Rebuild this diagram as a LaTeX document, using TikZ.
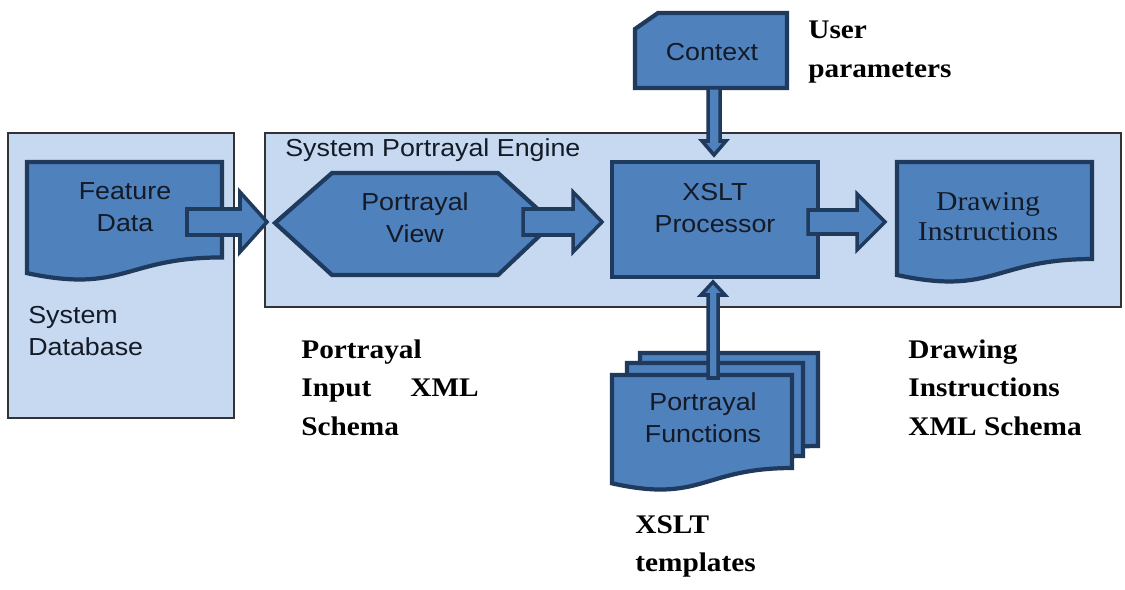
\documentclass[tikz,border=0pt]{standalone}
\usepackage{fontspec}
\setmainfont{Liberation Serif}[FakeStretch=1.09]
\setsansfont{Liberation Sans}[FakeStretch=1.09]
\definecolor{lightbg}{HTML}{C6D9F1}
\definecolor{midblue}{HTML}{4F81BD}
\definecolor{darkline}{HTML}{1F3A5C}
\definecolor{boxline}{HTML}{333333}
\definecolor{txt}{HTML}{141A26}
\tikzset{
  lightbox/.style={fill=lightbg, draw=boxline, line width=1pt},
  blueshape/.style={fill=midblue, draw=darkline, line width=2.4pt, line join=miter},
  barrow/.style={fill=midblue, draw=darkline, line width=2pt, line join=miter},
  sanstxt/.style={font=\sffamily\fontsize{14}{18.1}\selectfont, text=txt, align=center, inner sep=0},
  sanslbl/.style={font=\sffamily\fontsize{14}{18.1}\selectfont, text=txt, align=left, anchor=north west, inner sep=0},
  seriftxt/.style={font=\rmfamily\fontsize{15.5}{17}\selectfont, text=txt, align=center, inner sep=0},
  boldlbl/.style={font=\rmfamily\bfseries\fontsize{15.3}{22.1}\selectfont, text=black, align=left, anchor=north west, inner sep=0}
}
% document shape: x1, x2, top, height
\newcommand\docpath[4]{(#1,#3) -- (#2,#3) -- (#2,#3+0.802*#4) .. controls ({(#1+#2)/2},#3+0.802*#4) and ({(#1+#2)/2},#3+1.1075*#4) .. (#1,#3+0.934*#4) -- cycle}
% horizontal block arrow: x0, x1 (head base), tip, yc, shaft half, head half
\newcommand\harrowpath[6]{(#1,#4-#5) -- (#2,#4-#5) -- (#2,#4-#6) -- (#3,#4) -- (#2,#4+#6) -- (#2,#4+#5) -- (#1,#4+#5) -- cycle}
% vertical block arrow: y0, y1 (head base), tip, xc, shaft half, head half
\newcommand\varrowpath[6]{(#4-#5,#1) -- (#4-#5,#2) -- (#4-#6,#2) -- (#4,#3) -- (#4+#6,#2) -- (#4+#5,#2) -- (#4+#5,#1) -- cycle}
\begin{document}
\begin{tikzpicture}[x=0.02cm, y=-0.02cm]
\useasboundingbox (0,0) rectangle (1125,590);
\fill[white] (0,0) rectangle (1125,590);
% containers
\draw[lightbox] (8,133) rectangle (234,418);
\draw[lightbox] (265,133) rectangle (1121,307);
\node[sanslbl] (db) at (28,306) {System\\Database};
\node[sanslbl] (eng) at (285,138) {System Portrayal Engine};
% Feature Data
\draw[blueshape] \docpath{27}{222}{162}{119};
\node[sanstxt] (fd) at (125,207) {Feature\\Data};
% Portrayal View hexagon
\draw[blueshape] (275,223) -- (332,173) -- (498,173) -- (553,223) -- (498,275) -- (332,275) -- cycle;
\node[sanstxt] (pv) at (415,218) {Portrayal\\View};
% XSLT Processor
\draw[blueshape] (612,162) rectangle (818,277);
\node[sanstxt] (xp) at (715,208) {XSLT\\Processor};
% Drawing Instructions
\draw[blueshape] \docpath{897}{1092}{162}{121};
\node[seriftxt] (di) at (988,217) {Drawing\\Instructions};
% Context
\draw[blueshape] (635,29) -- (658,13) -- (787,13) -- (787,88) -- (635,88) -- cycle;
\node[sanstxt] (ctx) at (712,52) {Context};
% Portrayal Functions stack
\draw[blueshape] \docpath{640}{818}{353}{116};
\draw[blueshape] \docpath{627}{803}{363}{116};
\draw[blueshape] \docpath{612}{792}{375}{116};
\node[sanstxt] (pf) at (703,418) {Portrayal\\Functions};
% block arrows
\draw[barrow] \harrowpath{187}{240}{267}{222}{13}{30};
\draw[barrow] \harrowpath{523}{573}{602}{222}{13}{30};
\draw[barrow] \harrowpath{808}{857}{885}{222}{12}{28};
\draw[barrow] \varrowpath{88}{141}{155}{714}{6}{12};
\draw[barrow] \varrowpath{378}{295}{282}{713}{5}{12};
% bold labels
\node[boldlbl] (up) at (808,21) {User\\parameters};
\node[boldlbl] (pix) at (301,339) {Portrayal\\Input\hspace*{1.45em}XML\\Schema};
\node[boldlbl] (dix) at (908,339) {Drawing\\Instructions\\XML Schema};
\node[boldlbl] (xt) at (635,515) {XSLT\\templates};
\end{tikzpicture}
\end{document}
